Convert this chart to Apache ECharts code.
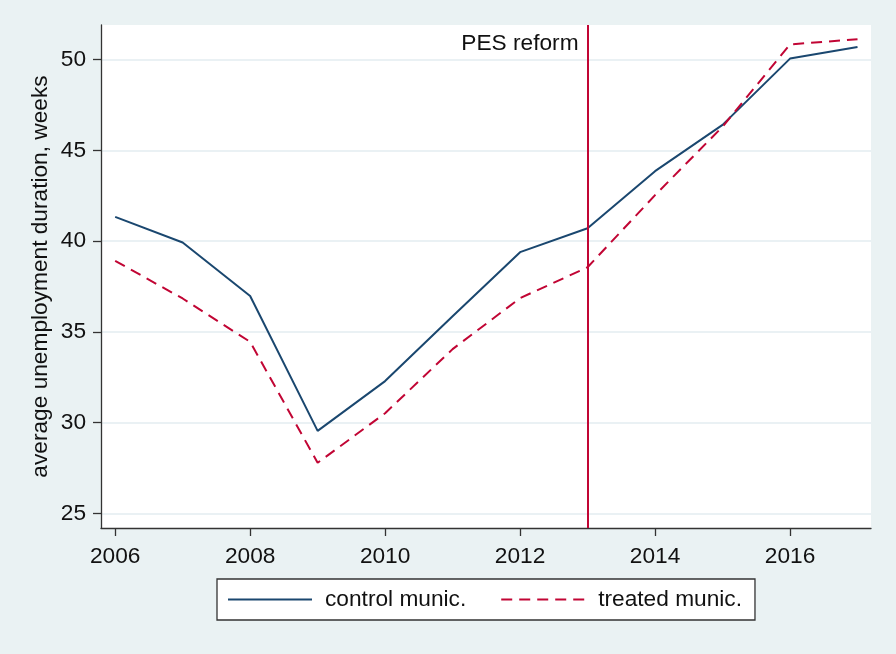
<!DOCTYPE html>
<html>
<head>
<meta charset="utf-8">
<script src="https://cdn.jsdelivr.net/npm/echarts@6/dist/echarts.min.js"></script>
<style>
html,body{margin:0;padding:0;background:#EAF2F3;}
#chart{width:896px;height:654px;}
</style>
</head>
<body>
<div id="chart"></div>
<script>
const years = [2006,2007,2008,2009,2010,2011,2012,2013,2014,2015,2016,2017];
const controlMunic = [41.33,39.92,36.98,29.55,32.29,35.86,39.39,40.71,43.85,46.4,50.05,50.69];
const treatedMunic = [38.91,36.84,34.45,27.79,30.52,34.05,36.86,38.56,42.53,46.3,50.83,51.12];
const xTicks = [2006,2008,2010,2012,2014,2016];
const yTicks = [25,30,35,40,45,50];
const reformYear = 2013;
const reformLabel = 'PES reform';
const reformLabelY = 50.85;

const FONT = '"Liberation Sans", Arial, sans-serif';
const FS = 22.7;
const NAVY = '#1A476F';
const RED = '#C10534';
const TXT = '#111111';

const chart = echarts.init(document.getElementById('chart'));
chart.setOption({
  backgroundColor: '#EAF2F3',
  animation: false,
  textStyle: {fontFamily: FONT},
  grid: {left: 101, right: 25, top: 25, bottom: 126, backgroundColor: '#ffffff', show: true, borderWidth: 0},
  xAxis: {
    type: 'value', min: 2005.79, max: 2017.2,
    axisLine: {show: true, lineStyle: {color: '#333', width: 1.3}},
    axisTick: {show: true, length: 8, lineStyle: {color: '#333', width: 1.3}, customValues: xTicks},
    axisLabel: {color: TXT, fontSize: FS, fontFamily: FONT, margin: 17, customValues: xTicks, formatter: v => String(v)},
    splitLine: {show: false}
  },
  yAxis: {
    type: 'value', min: 24.2, max: 51.9,
    name: 'average unemployment duration, weeks',
    nameLocation: 'middle', nameGap: 49, nameMoveOverlap: false,
    nameTextStyle: {color: TXT, fontSize: FS, fontFamily: FONT},
    axisLine: {show: true, lineStyle: {color: '#333', width: 1.3}},
    axisTick: {show: true, length: 8, lineStyle: {color: '#333', width: 1.3}, customValues: yTicks},
    axisLabel: {color: TXT, fontSize: FS, fontFamily: FONT, margin: 15, customValues: yTicks},
    splitLine: {show: true, lineStyle: {color: '#E3EDF0', width: 1.5}}
  },
  legend: {
    left: 217, top: 579,
    backgroundColor: '#ffffff', borderColor: '#333', borderWidth: 1.3,
    padding: [9, 13, 9, 10],
    itemWidth: 84, itemHeight: 14, itemGap: 34,
    itemStyle: {opacity: 0},
    textStyle: {color: TXT, fontSize: FS, fontFamily: FONT, padding: [0,0,0,8]},
    data: ['control munic.', 'treated munic.']
  },
  series: [
    {
      name: 'control munic.', type: 'line', symbol: 'none',
      data: years.map((y, i) => [y, controlMunic[i]]),
      lineStyle: {color: NAVY, width: 2}, itemStyle: {color: NAVY},
      markLine: {
        silent: true, symbol: 'none', label: {show: false},
        lineStyle: {color: RED, width: 2, type: 'solid'},
        data: [{xAxis: reformYear}]
      },
      markPoint: {
        silent: true, symbol: 'circle', symbolSize: 0,
        label: {show: true, position: 'left', distance: 9, formatter: reformLabel, color: TXT, fontSize: FS, fontFamily: FONT},
        data: [{coord: [reformYear, reformLabelY]}]
      }
    },
    {
      name: 'treated munic.', type: 'line', symbol: 'none',
      data: years.map((y, i) => [y, treatedMunic[i]]),
      lineStyle: {color: RED, width: 2, type: [11, 7]}, itemStyle: {color: RED}
    }
  ]
});
</script>
</body>
</html>
